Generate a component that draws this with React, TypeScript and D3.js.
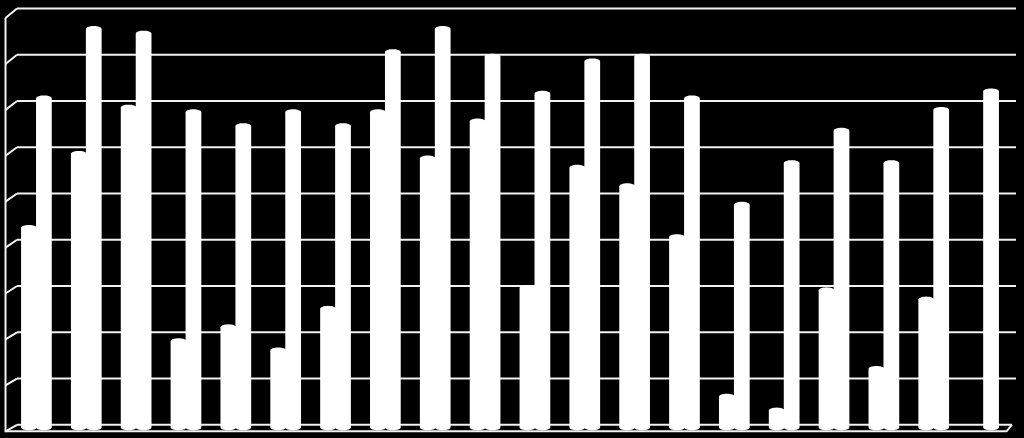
import React from "react";
import * as d3 from "d3";

const categories = [
  "C1","C2","C3","C4","C5","C6","C7","C8","C9","C10",
  "C11","C12","C13","C14","C15","C16","C17","C18","C19","C20",
];
const seriesA = [43, 59, 69, 18.5, 21.5, 16.5, 25.5, 68, 58, 66, 30, 56, 52, 41, 6.5, 3.5, 29.5, 12.5, 27.5, 0];
const seriesB = [71, 86, 85, 68, 65, 68, 65, 81, 86, 80, 72, 79, 80, 71, 48, 57, 64, 57, 68.5, 72.5];
const ticks = [0, 10, 20, 30, 40, 50, 60, 70, 80, 90];

const W = 1024;
const H = 438;

export default function App() {
  const y = d3.scaleLinear().domain([0, 90]).range([424.8, 8.5]);
  const x0 = d3
    .scaleBand<string>()
    .domain(categories)
    .range([11.5, 1008.5])
    .paddingInner(0.4)
    .paddingOuter(0.2);
  const x1 = d3.scaleBand<string>().domain(["a", "b"]).range([0, x0.bandwidth()]);

  const backL = 17;
  const backR = 1016;
  const frontL = 5.5;
  const depthDy = (v: number) => 6.5 + 3 * (v / 90);
  const midOff = 2;
  const ry = 3;
  const stroke = "#f2f2f2";

  const bar = (cx: number, w: number, v: number, key: string) => {
    if (!v) return null;
    const yb = y(0) + midOff + 0.5;
    const yt = y(v) + midOff;
    const r = w / 2 + 0.4;
    const p = d3.path();
    p.moveTo(cx - r, yt);
    p.lineTo(cx - r, yb);
    const pts = 16;
    for (let k = 0; k <= pts; k++) {
      const a = Math.PI - (Math.PI * k) / pts;
      p.lineTo(cx + r * Math.cos(a), yb + ry * Math.sin(a));
    }
    p.lineTo(cx + r, yt);
    for (let k = 0; k <= pts; k++) {
      const a = (Math.PI * k) / pts;
      p.lineTo(cx + r * Math.cos(a), yt - ry * Math.sin(a));
    }
    p.closePath();
    return <path key={key} d={p.toString()} fill="#ffffff" />;
  };

  const floorFrontY = y(0) + depthDy(0);

  return (
    <svg
      width={W}
      height={H}
      style={{ position: "absolute", left: 0, top: 0, background: "#000" }}
    >
      <rect x={0} y={0} width={W} height={H} fill="#000" />
      {ticks.map((t) => (
        <line key={"g" + t} x1={backL} x2={t === 0 ? 1012 : backR} y1={y(t)} y2={y(t)} stroke={stroke} strokeWidth={2} />
      ))}
      <line x1={frontL} x2={frontL} y1={y(90) + depthDy(90)} y2={floorFrontY + 1} stroke={stroke} strokeWidth={2} />
      {ticks.map((t) => (
        <line
          key={"d" + t}
          x1={frontL}
          y1={y(t) + depthDy(t)}
          x2={backL}
          y2={y(t)}
          stroke={stroke}
          strokeWidth={2}
        />
      ))}
      <polyline
        points={`${frontL},${floorFrontY} 1006.5,${floorFrontY} 1012,${y(0)}`}
        fill="none"
        stroke={stroke}
        strokeWidth={2}
      />
      {categories.map((c, i) => {
        const bx = x0(c) as number;
        const w = x1.bandwidth();
        return (
          <g key={c}>
            {bar(bx + (x1("a") as number) + w / 2, w, seriesA[i], c + "a")}
            {bar(bx + (x1("b") as number) + w / 2, w, seriesB[i], c + "b")}
          </g>
        );
      })}
    </svg>
  );
}
